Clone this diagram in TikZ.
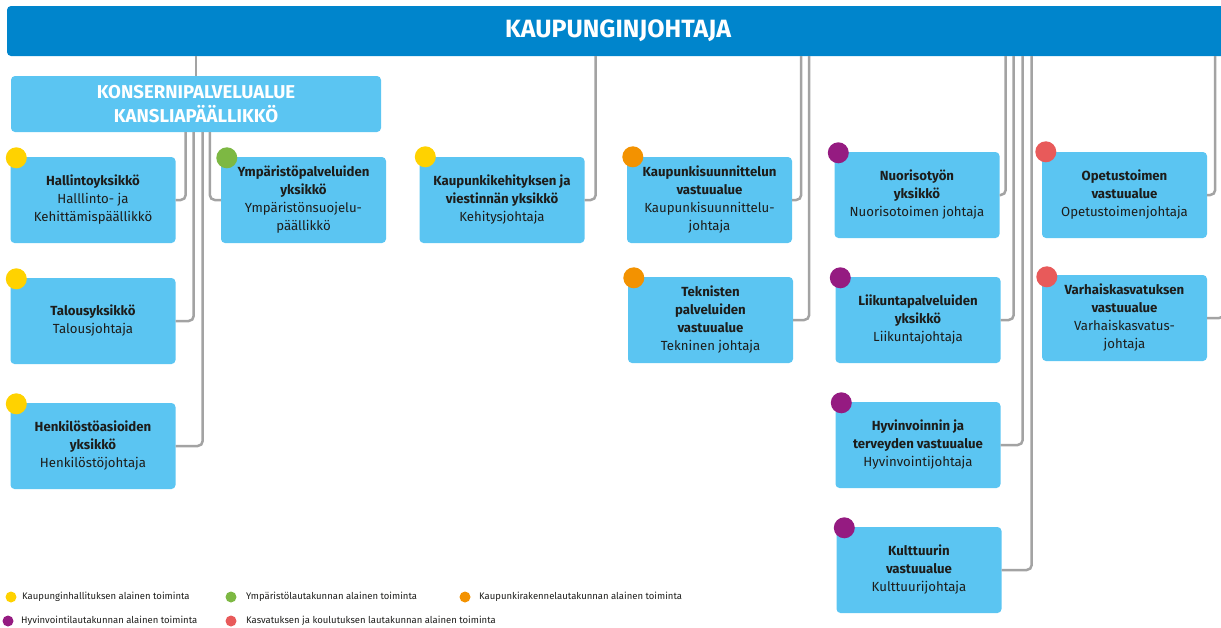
\documentclass[tikz,border=0pt]{standalone}
\usepackage{fontspec}
\setmainfont{Fira Sans}
\definecolor{topblue}{HTML}{0085CC}
\definecolor{boxblue}{HTML}{5BC5F2}
\definecolor{linegray}{HTML}{A3A3A3}
\definecolor{ink}{HTML}{1D1D1B}
\definecolor{khyellow}{HTML}{FFD200}
\definecolor{ymgreen}{HTML}{7DB843}
\definecolor{kaorange}{HTML}{F39200}
\definecolor{hypurple}{HTML}{951B81}
\definecolor{kored}{HTML}{E85A5A}
\tikzset{node distance=125pt, x=1pt, y=-1pt,
  unit/.style={fill=boxblue, rounded corners=4pt, minimum width=165pt,
    minimum height=86pt, align=center, text=ink, inner sep=2pt,
    font=\fontsize{13.2}{18}\selectfont},
  link/.style={draw=linegray, line width=2.5pt, rounded corners=5pt},
  dot/.style={circle, minimum size=21pt, inner sep=0pt},
  key/.style={circle, minimum size=11pt, inner sep=0pt},
  keytext/.style={anchor=west, inner sep=0pt, text=ink,
    font=\fontsize{9.5}{11}\selectfont}}

\begin{document}
\begin{tikzpicture}
  \useasboundingbox (0,0) rectangle (1221,627);
  \clip (0,0) rectangle (1221,627);

  \node[fill=topblue, rounded corners=4pt, minimum width=1222pt, minimum height=50pt,
    text=white, font=\fontsize{25}{28}\selectfont\bfseries] (top) at (618,31) {KAUPUNGINJOHTAJA};
  \node[fill=boxblue, rounded corners=4pt, minimum width=370pt, minimum height=56pt,
    text=white, align=center, font=\fontsize{18.6}{24}\selectfont\bfseries] (kons) at (196,104)
    {KONSERNIPALVELUALUE\\KANSLIAP\"A\"ALLIKK\"O};

  % konsernipalvelut
  \node[unit] (hal) at (93,200) {\textbf{Hallintoyksikkö}\\Halllinto- ja\\Kehittämispäällikkö};
  \node[unit, below of=hal, node distance=121pt] (tal) {\textbf{Talousyksikkö}\\Talousjohtaja};
  \node[unit, below of=tal] (hen) {\textbf{Henkilöstöasioiden}\\\textbf{yksikkö}\\Henkilöstöjohtaja};
  \node[unit] (ymp) at (303.5,200) {\textbf{Ympäristöpalveluiden}\\\textbf{yksikkö}\\Ympäristönsuojelu-\\päällikkö};

  \node[unit] (keh) at (502,200) {\textbf{Kaupunkikehityksen ja}\\\textbf{viestinnän yksikkö}\\Kehitysjohtaja};

  \node[unit] (ksu) at (709.5,200) {\textbf{Kaupunkisuunnittelun}\\\textbf{vastuualue}\\Kaupunkisuunnittelu-\\johtaja};
  \node[unit, below of=ksu, node distance=120pt, xshift=1pt] (tek) {\textbf{Teknisten}\\\textbf{palveluiden}\\\textbf{vastuualue}\\Tekninen johtaja};

  \node[unit] (nuo) at (917,195) {\textbf{Nuorisotyön}\\\textbf{yksikkö}\\Nuorisotoimen johtaja};
  \node[unit, below of=nuo, xshift=1pt] (lii) {\textbf{Liikuntapalveluiden}\\\textbf{yksikkö}\\Liikuntajohtaja};
  \node[unit, below of=lii] (hyv) {\textbf{Hyvinvoinnin ja}\\\textbf{terveyden vastuualue}\\Hyvinvointijohtaja};
  \node[unit, below of=hyv, xshift=1pt] (kul) {\textbf{Kulttuurin}\\\textbf{vastuualue}\\Kulttuurijohtaja};

  \node[unit] (ope) at (1124.5,195) {\textbf{Opetustoimen}\\\textbf{vastuualue}\\Opetustoimenjohtaja};
  \node[unit, below of=ope, node distance=123pt] (var) {\textbf{Varhaiskasvatuksen}\\\textbf{vastuualue}\\Varhaiskasvatus-\\johtaja};

  % lines
  \draw[link] (kons.north) -- (kons.north |- top.south);
  \draw[link] (hal.east) -| ([xshift=10pt]hal.east |- kons.south);
  \draw[link] (tal.east) -| ([xshift=18pt]tal.east |- kons.south);
  \draw[link] (hen.east) -| ([xshift=27pt]hen.east |- kons.south);
  \draw[link] (ymp.west) -| ([xshift=-11pt]ymp.west |- kons.south);
  \draw[link] (keh.east) -| ([xshift=11pt]keh.east |- top.south);
  \draw[link] (ksu.east) -| ([xshift=9pt]ksu.east |- top.south);
  \draw[link] (tek.east) -| ([xshift=16pt]tek.east |- top.south);
  \draw[link] (nuo.east) -| ([xshift=6pt]nuo.east |- top.south);
  \draw[link] (lii.east) -| ([xshift=13pt]lii.east |- top.south);
  \draw[link] (hyv.east) -| ([xshift=22pt]hyv.east |- top.south);
  \draw[link] (kul.east) -| ([xshift=30pt]kul.east |- top.south);
  \draw[link] (ope.east) -| ([xshift=8pt]ope.east |- top.south);
  \draw[link] (var.east) -| ([xshift=17pt]var.east |- top.south);

  % lautakunnat
  \node[dot, fill=khyellow] (halc) at ([xshift=6pt,yshift=-1pt]hal.north west) {};
  \node[dot, fill=khyellow] (talc) at ([xshift=6pt,yshift=-1pt]tal.north west) {};
  \node[dot, fill=khyellow] (henc) at ([xshift=6pt,yshift=-1pt]hen.north west) {};
  \node[dot, fill=ymgreen] (ympc) at ([xshift=6pt,yshift=-1pt]ymp.north west) {};
  \node[dot, fill=khyellow] (kehc) at ([xshift=6pt]keh.north west) {};
  \node[dot, fill=kaorange] (ksuc) at ([xshift=6pt]ksu.north west) {};
  \node[dot, fill=kaorange] (tekc) at ([xshift=6pt,yshift=-1pt]tek.north west) {};
  \node[dot, fill=hypurple] (nuoc) at ([xshift=4pt,yshift=-1pt]nuo.north west) {};
  \node[dot, fill=hypurple] (liic) at ([xshift=5pt,yshift=-1pt]lii.north west) {};
  \node[dot, fill=hypurple] (hyvc) at ([xshift=6pt,yshift=-1pt]hyv.north west) {};
  \node[dot, fill=hypurple] (kulc) at ([xshift=8pt,yshift=-1pt]kul.north west) {};
  \node[dot, fill=kored] (opec) at ([xshift=4pt]ope.north west) {};
  \node[dot, fill=kored] (varc) at ([xshift=5pt,yshift=-2pt]var.north west) {};

  % selite
  \node[key, fill=khyellow] (k1) at (11,597) {};
  \node[keytext] (t1) at (22,597) {Kaupunginhallituksen alainen toiminta};
  \node[key, fill=ymgreen] (k2) at (231,597) {};
  \node[keytext] (t2) at (246,597) {Ympäristölautakunnan alainen toiminta};
  \node[key, fill=kaorange] (k3) at (465,597) {};
  \node[keytext] (t3) at (479,597) {Kaupunkirakennelautakunnan alainen toiminta};
  \node[key, fill=hypurple] (k4) at (8,621) {};
  \node[keytext] (t4) at (21,621) {Hyvinvointilautakunnan alainen toiminta};
  \node[key, fill=kored] (k5) at (231,621) {};
  \node[keytext] (t5) at (246,621) {Kasvatuksen ja koulutuksen lautakunnan alainen toiminta};
\end{tikzpicture}
\end{document}
